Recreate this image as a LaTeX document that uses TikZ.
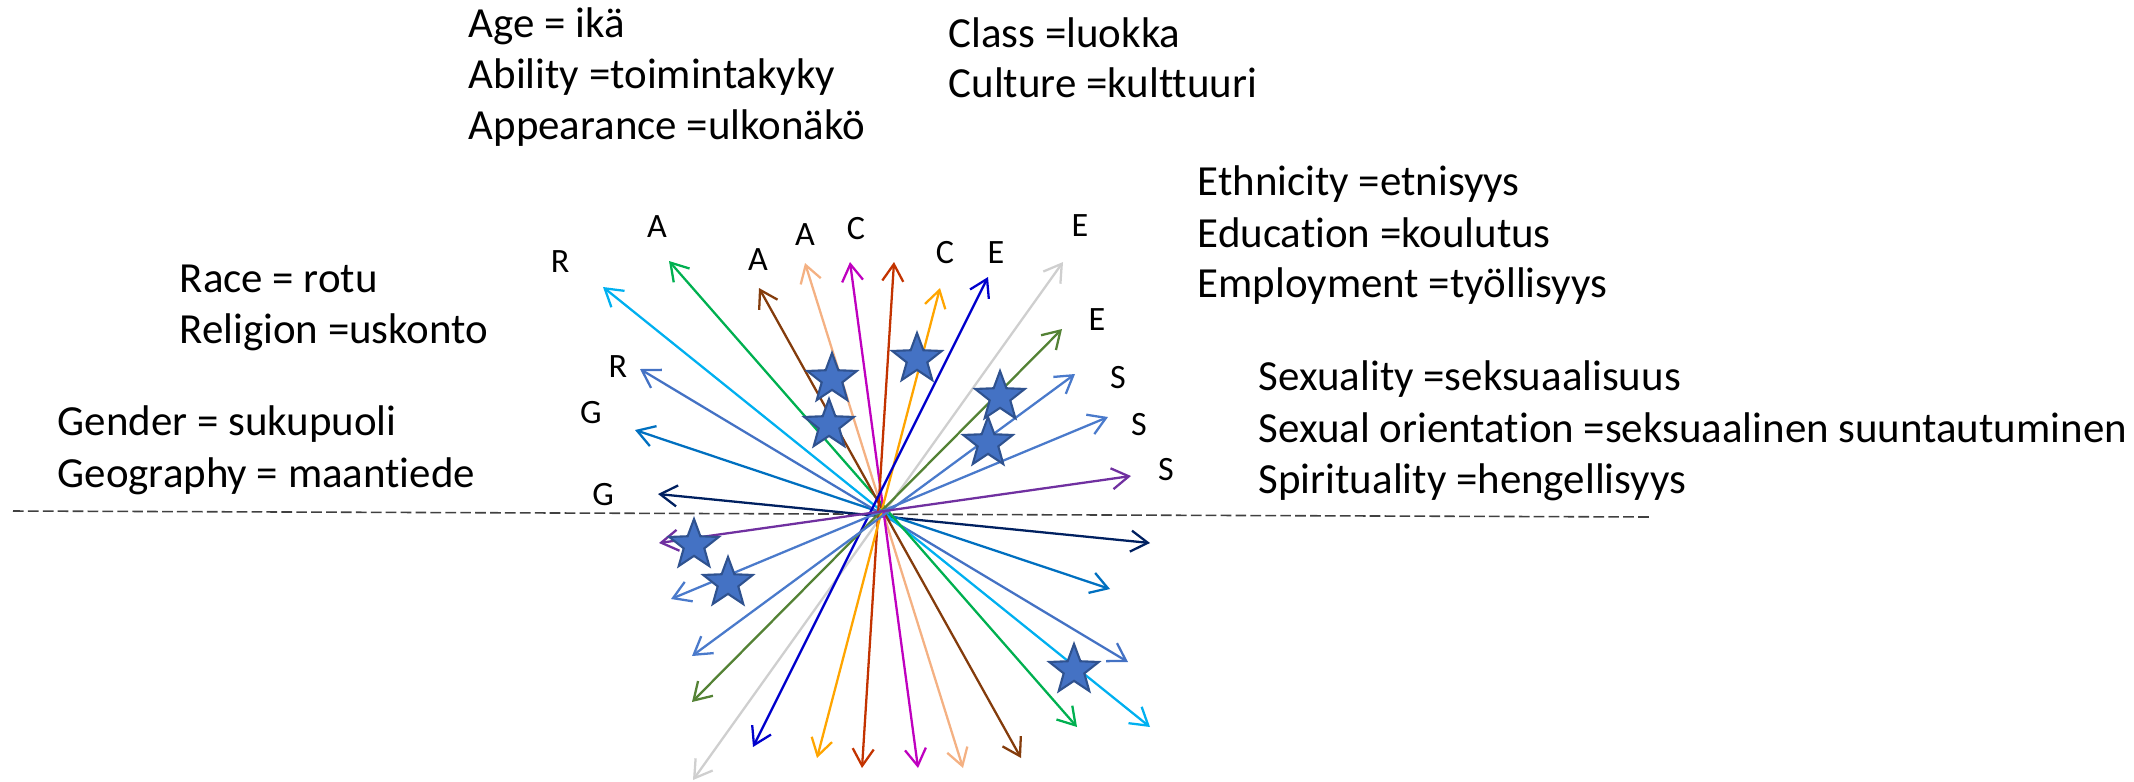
\documentclass[tikz,border=0pt]{standalone}
\usepackage{fontspec}
\setmainfont[Ligatures=NoCommon]{Carlito}
\usetikzlibrary{arrows.meta,shapes.geometric}
\definecolor{cnavy}{HTML}{002060}
\definecolor{cgblue}{HTML}{0070C0}
\definecolor{crblue}{HTML}{4472C4}
\definecolor{clblue}{HTML}{00B0F0}
\definecolor{cgreen}{HTML}{00B050}
\definecolor{cbrown}{HTML}{843C0C}
\definecolor{cpeach}{HTML}{F4B183}
\definecolor{cmagenta}{HTML}{BF00BF}
\definecolor{cred}{HTML}{C33300}
\definecolor{corange}{HTML}{FFA500}
\definecolor{cdblue}{HTML}{0000CC}
\definecolor{cgray}{HTML}{CFCFCF}
\definecolor{colive}{HTML}{548235}
\definecolor{csblue}{HTML}{4A7ACB}
\definecolor{cpurple}{HTML}{7030A0}
\definecolor{cstar}{HTML}{4472C4}
\definecolor{cstarline}{HTML}{2F528F}
\definecolor{cdash}{HTML}{404040}
\begin{document}
\begin{tikzpicture}[x=0.01cm,y=-0.01cm,
  leg/.style={anchor=base west, inner sep=0, font=\fontsize{12.2}{14}\selectfont},
  lbl/.style={inner sep=0, font=\fontsize{9.7}{11}\selectfont},
  ray/.style={line width=0.65pt, {Straight Barb[length=0.17cm,width=0.21cm]}-{Straight Barb[length=0.17cm,width=0.21cm]}},
  starmark/.style={star, star points=5, star point ratio=2.4, minimum size=0.52cm, inner sep=0, fill=cstar, draw=cstarline, line width=0.6pt}]
\useasboundingbox (0,0) rectangle (2134,781);

% dashed horizon
\coordinate (dl) at (13,511);
\coordinate (dr) at (1652,517);
\draw[cdash, line width=0.45pt, dash pattern=on 0.107cm off 0.042cm] (dl) -- (dr);

% rays
\coordinate (navyA) at (658,494);   \coordinate (navyB) at (1150,543);
\coordinate (gbA) at (635,430);     \coordinate (gbB) at (1110,589);
\coordinate (rbA) at (640,369);     \coordinate (rbB) at (1128,662);
\coordinate (lbA) at (603,287);     \coordinate (lbB) at (1150,727);
\coordinate (grA) at (669,261);     \coordinate (grB) at (1077,727);
\coordinate (brA) at (759,288);     \coordinate (brB) at (1021,758);
\coordinate (peA) at (805,263);     \coordinate (peB) at (963,768);
\coordinate (maA) at (850,262);     \coordinate (maB) at (918,768);
\coordinate (reA) at (894,262);     \coordinate (reB) at (862,768);
\coordinate (orA) at (940,288);     \coordinate (orB) at (817,758);
\coordinate (dbA) at (988,277);     \coordinate (dbB) at (753,747);
\coordinate (gyA) at (1063,262);    \coordinate (gyB) at (693,780);
\coordinate (olA) at (1062,329);    \coordinate (olB) at (692,702);
\coordinate (s1A) at (1075,374);    \coordinate (s1B) at (692,656);
\coordinate (s2A) at (1108,417);    \coordinate (s2B) at (671,599);
\coordinate (puA) at (1131,476);    \coordinate (puB) at (659,543);

\draw[ray, cgray] (gyA) -- (gyB);
\draw[ray, cpeach] (peA) -- (peB);
\draw[ray, cnavy] (navyA) -- (navyB);
\draw[ray, cgblue] (gbA) -- (gbB);
\draw[ray, crblue] (rbA) -- (rbB);
\draw[ray, clblue] (lbA) -- (lbB);
\draw[ray, cgreen] (grA) -- (grB);
\draw[ray, cbrown] (brA) -- (brB);
\draw[ray, cmagenta] (maA) -- (maB);
\draw[ray, cred] (reA) -- (reB);
\draw[ray, corange] (orA) -- (orB);
\draw[ray, cdblue] (dbA) -- (dbB);
\draw[ray, colive] (olA) -- (olB);
\draw[ray, csblue] (s1A) -- (s1B);
\draw[ray, csblue] (s2A) -- (s2B);
\draw[ray, cpurple] (puA) -- (puB);

% stars
\node[starmark] (st1) at (832,379) {};
\node[starmark] (st2) at (829,425) {};
\node[starmark] (st3) at (917,359) {};
\node[starmark] (st4) at (1000,397) {};
\node[starmark] (st5) at (988,443) {};
\node[starmark] (st6) at (694,545) {};
\node[starmark] (st7) at (728,583) {};
\node[starmark] (st8) at (1074,670) {};

% letter labels
\node[lbl] (lR1) at (560,262) {R};
\node[lbl] (lA1) at (657,227) {A};
\node[lbl] (lA2) at (758,260) {A};
\node[lbl] (lA3) at (805,235) {A};
\node[lbl] (lC1) at (856,229) {C};
\node[lbl] (lC2) at (945,253) {C};
\node[lbl] (lE1) at (996,253) {E};
\node[lbl] (lE2) at (1080,226) {E};
\node[lbl] (lE3) at (1097,320) {E};
\node[lbl] (lS1) at (1118,378) {S};
\node[lbl] (lS2) at (1139,425) {S};
\node[lbl] (lS3) at (1166,470) {S};
\node[lbl] (lR2) at (618,367) {R};
\node[lbl] (lG1) at (591,413) {G};
\node[lbl] (lG2) at (603,495) {G};

% legends
\node[leg] (t1) at (468,37) {Age = ikä};
\node[leg] (t2) at (468,88) {Ability =toimintakyky};
\node[leg] (t3) at (468,139) {Appearance =ulkonäkö};
\node[leg] (t4) at (948,47) {Class =luokka};
\node[leg] (t5) at (948,97) {Culture =kulttuuri};
\node[leg] (t6) at (1197,195) {Ethnicity =etnisyys};
\node[leg] (t7) at (1197,247) {Education =koulutus};
\node[leg] (t8) at (1197,297) {Employment =työllisyys};
\node[leg] (t9) at (1258,390) {Sexuality =seksuaalisuus};
\node[leg] (t10) at (1258,442) {Sexual orientation =seksuaalinen suuntautuminen};
\node[leg] (t11) at (1258,493) {Spirituality =hengellisyys};
\node[leg] (t12) at (179,292) {Race = rotu};
\node[leg] (t13) at (179,343) {Religion =uskonto};
\node[leg] (t14) at (57,435) {Gender = sukupuoli};
\node[leg] (t15) at (57,487) {Geography = maantiede};
\end{tikzpicture}
\end{document}
